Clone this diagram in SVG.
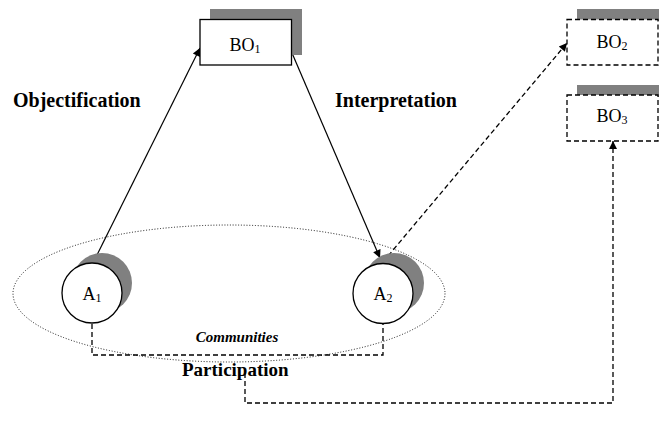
<svg xmlns="http://www.w3.org/2000/svg" width="659" height="431" viewBox="0 0 659 431">
<defs>
<marker id="ah" viewBox="0 0 10 10" refX="10" refY="5" markerWidth="11" markerHeight="8" markerUnits="userSpaceOnUse" orient="auto">
<path d="M0,0 L10,5 L0,10 z" fill="#000"/>
</marker>
</defs>
<style>
.shadow{fill:#808080;stroke:none}
.box{fill:#fff;stroke:#000;stroke-width:1.3}
.dbox{fill:#fff;stroke:#000;stroke-width:1.3;stroke-dasharray:5,3}
.circ{fill:#fff;stroke:#000;stroke-width:1.3}
.lbl{font-family:"Liberation Serif",serif;font-weight:bold;font-size:20px;fill:#000}
.nt{font-family:"Liberation Serif",serif;font-size:18px;fill:#000;text-anchor:middle}
.sub{font-size:12px}
.solid{fill:none;stroke:#000;stroke-width:1.2}
.dash{fill:none;stroke:#000;stroke-width:1.3;stroke-dasharray:5,3}
.ell{fill:none;stroke:#000;stroke-width:0.9;stroke-dasharray:1,1.8}
</style>
<ellipse class="ell" cx="229" cy="293.5" rx="216" ry="68.5"/>
<g id="connectors">
<line class="solid" x1="93" y1="263" x2="200" y2="48" marker-end="url(#ah)"/>
<line class="solid" x1="292" y1="53" x2="380" y2="258" marker-end="url(#ah)"/>
<line class="dash" x1="383" y1="262" x2="567" y2="43" marker-end="url(#ah)"/>
<path class="dash" d="M92,324 V355 H383 V324"/>
<path class="dash" d="M245,373 V403 H613 V141" marker-end="url(#ah)"/>
</g>
<g id="BO1">
<rect class="shadow" x="210" y="9" width="92" height="46"/>
<rect class="box" x="200" y="19.5" width="91.5" height="45.5"/>
<text class="nt" x="245" y="51">BO<tspan class="sub" dy="2">1</tspan></text>
</g>
<g id="BO2">
<rect class="shadow" x="577" y="9" width="82" height="12"/>
<rect class="dbox" x="567" y="19.5" width="91" height="45.5"/>
<text class="nt" x="612" y="48">BO<tspan class="sub" dy="2">2</tspan></text>
</g>
<g id="BO3">
<rect class="shadow" x="577" y="85" width="82" height="12"/>
<rect class="dbox" x="567" y="95" width="91" height="46"/>
<text class="nt" x="612" y="122">BO<tspan class="sub" dy="2">3</tspan></text>
</g>
<g id="A1">
<circle class="shadow" cx="102" cy="283" r="30"/>
<circle class="circ" cx="92" cy="293" r="30"/>
<text class="nt" x="92" y="300">A<tspan class="sub" dy="2">1</tspan></text>
</g>
<g id="A2">
<circle class="shadow" cx="394" cy="283" r="30"/>
<circle class="circ" cx="383" cy="293.5" r="30"/>
<text class="nt" x="383" y="300">A<tspan class="sub" dy="2">2</tspan></text>
</g>
<g id="labels">
<text class="lbl" x="13" y="107">Objectification</text>
<text class="lbl" x="335" y="107">Interpretation</text>
<text class="lbl" x="182" y="376" style="font-size:19px">Participation</text>
<text x="237" y="342" text-anchor="middle" style="font-family:'Liberation Serif',serif;font-weight:bold;font-style:italic;font-size:15px">Communities</text>
</g>
</svg>
